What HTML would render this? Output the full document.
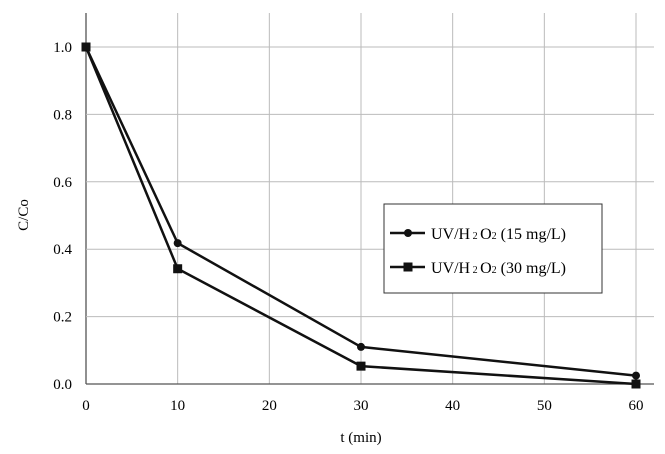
<!DOCTYPE html>
<html><head><meta charset="utf-8"><style>
body{margin:0;background:#fff}
svg{display:block;font-family:"Liberation Serif",serif}
</style></head><body>
<svg id="c" width="665" height="454"></svg>
<script>
const xTicks=[0,10,20,30,40,50,60];
const yTicks=[0.0,0.2,0.4,0.6,0.8,1.0];
const times=[0,10,30,60];
const series15=[1.0,0.418,0.110,0.025];
const series30=[1.0,0.342,0.053,0.0];
const NS="http://www.w3.org/2000/svg";
const svg=document.getElementById('c');
const X=t=>86+t*(636-86)/60;
const Y=v=>384-v*337;
function el(tag,attrs,parent){const e=document.createElementNS(NS,tag);for(const k in attrs)e.setAttribute(k,attrs[k]);(parent||svg).appendChild(e);return e;}
xTicks.forEach(t=>{
  const l=el('line',{x1:X(t),x2:X(t),y1:13,y2:384,stroke:t===0?'#555':'#bbb','stroke-width':t===0?1.3:1});
  
  
  const tx=el('text',{x:X(t),y:410,'text-anchor':'middle','font-size':15});
  tx.textContent=t;
  
  
});
yTicks.forEach(v=>{
  const l=el('line',{x1:86,x2:654,y1:Y(v),y2:Y(v),stroke:v===0?'#555':'#bbb','stroke-width':v===0?1.3:1});
  
  
  const tx=el('text',{x:72,y:Y(v)+5,'text-anchor':'end','font-size':15});
  tx.textContent=v.toFixed(1);
  
  
});
const xt=el('text',{x:361,y:442,'text-anchor':'middle','font-size':15});xt.textContent='t (min)';


const yt=el('text',{x:0,y:0,'text-anchor':'middle','font-size':15,transform:'translate(28,215) rotate(-90)'});yt.textContent='C/Co';


function drawSeries(vals,shape,name){
  const p=el('polyline',{points:times.map((t,i)=>X(t)+','+Y(vals[i])).join(' '),fill:'none',stroke:'#111','stroke-width':2.5});
  
  
  times.forEach((t,i)=>{
    let m;
    if(shape==='circle')m=el('circle',{cx:X(t),cy:Y(vals[i]),r:4,fill:'#111'});
    else m=el('rect',{x:X(t)-4.5,y:Y(vals[i])-4.5,width:9,height:9,fill:'#111'});
    
    
  });
}
drawSeries(series15,'circle','series-15mg');
drawSeries(series30,'square','series-30mg');
const lg=el('g',{});


el('rect',{x:384,y:204,width:218,height:89,fill:'#fff',stroke:'#333','stroke-width':1},lg);
[['circle','15 mg/L',233],['square','30 mg/L',267]].forEach(([s,lab,y])=>{
  el('line',{x1:390,x2:425,y1:y,y2:y,stroke:'#111','stroke-width':2.5},lg);
  if(s==='circle')el('circle',{cx:408,cy:y,r:4,fill:'#111'},lg);else el('rect',{x:403.5,y:y-4.5,width:9,height:9,fill:'#111'},lg);
  const t=el('text',{x:431,y:y+6,'font-size':16},lg);
  t.innerHTML='UV/H<tspan font-size="10"> 2 </tspan>O<tspan font-size="10">2</tspan> ('+lab+')';
  
  
});
</script>
</body></html>
